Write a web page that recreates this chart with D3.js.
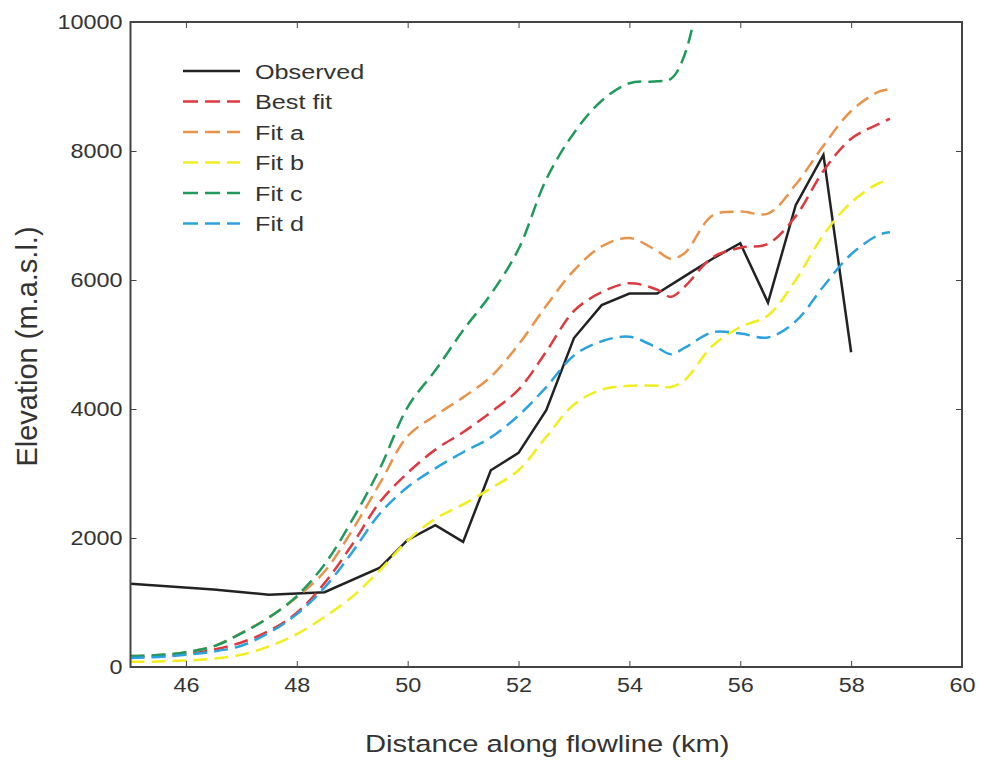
<!DOCTYPE html>
<html>
<head>
<meta charset="utf-8">
<script src="https://cdn.jsdelivr.net/npm/d3@7"></script>
<style>
  body { margin: 0; background: #fff; }
  text { font-family: "Liberation Sans", Arial, sans-serif; fill: #333; }
</style>
</head>
<body>
<script>
// observed flowline elevation
var obsDistance = [45, 46.5, 47.5, 48.5, 49.5, 50, 50.5, 51, 51.5, 52, 52.5, 53, 53.5, 54, 54.5, 55, 55.5, 56, 56.5, 57, 57.5, 58];
var obsElevation = [1290, 1200, 1120, 1160, 1540, 1970, 2200, 1940, 3050, 3320, 3980, 5100, 5610, 5790, 5790, 6060, 6330, 6570, 5650, 7160, 7940, 4880];

// modelled profiles, shared distance grid
var fitDistance = [45, 45.5, 46, 46.5, 47, 47.5, 48, 48.5, 49, 49.5, 50, 50.5, 51, 51.5, 52, 52.5, 53, 53.5, 54, 54.5, 54.75, 55, 55.5, 56, 56.5, 57, 57.5, 58, 58.5, 58.7];
var bestFit = [150, 165, 200, 270, 380, 560, 840, 1300, 1900, 2560, 3010, 3370, 3640, 3950, 4300, 4890, 5520, 5810, 5950, 5850, 5740, 5900, 6350, 6500, 6560, 6990, 7690, 8190, 8420, 8500];
var fitA = [170, 185, 230, 320, 530, 770, 1080, 1480, 2120, 2850, 3580, 3900, 4180, 4500, 5000, 5600, 6150, 6520, 6650, 6450, 6330, 6420, 7000, 7060, 7030, 7480, 8080, 8620, 8920, 8960];
var fitB = [80, 85, 100, 130, 190, 320, 510, 775, 1090, 1500, 1960, 2300, 2520, 2770, 3050, 3570, 4070, 4300, 4360, 4360, 4340, 4450, 4980, 5270, 5450, 6000, 6700, 7200, 7500, 7540];
var fitC = [170, 185, 230, 320, 520, 770, 1100, 1590, 2280, 3080, 4030, 4600, 5220, 5780, 6480, 7560, 8280, 8780, 9050, 9080, 9120, 9500, 11500, null, null, null, null, null, null, null];
var fitD = [140, 155, 190, 240, 330, 530, 820, 1230, 1780, 2380, 2790, 3080, 3330, 3560, 3900, 4340, 4830, 5050, 5120, 4950, 4850, 4950, 5190, 5170, 5110, 5360, 5900, 6400, 6700, 6740];

var xTicks = [46, 48, 50, 52, 54, 56, 58, 60];
var yTicks = [0, 2000, 4000, 6000, 8000, 10000];

var series = [
    {name: "Observed", xs: obsDistance, ys: obsElevation, color: "#222", dash: null},
    {name: "Best fit", xs: fitDistance, ys: bestFit, color: "#dc3a3f", dash: "14,7"},
    {name: "Fit a", xs: fitDistance, ys: fitA, color: "#e9924a", dash: "14,7"},
    {name: "Fit b", xs: fitDistance, ys: fitB, color: "#f2ee1e", dash: "14,7"},
    {name: "Fit c", xs: fitDistance, ys: fitC, color: "#1f9a5a", dash: "14,7"},
    {name: "Fit d", xs: fitDistance, ys: fitD, color: "#2aa2e0", dash: "14,7"}
];

var width = 983, height = 762;
var margin = {left: 130.5, right: 983 - 962, top: 22, bottom: 762 - 667};
var stretch = 1.2; // the original text is wider than it is tall

var svg = d3.select("body").append("svg")
    .attr("width", width)
    .attr("height", height);

var x = d3.scaleLinear().domain([45, 60]).range([margin.left, width - margin.right]);
var y = d3.scaleLinear().domain([0, 10000]).range([height - margin.bottom, margin.top]);

svg.append("clipPath").attr("id", "plotclip")
    .append("rect")
    .attr("x", x(45)).attr("y", y(10000))
    .attr("width", x(60) - x(45)).attr("height", y(0) - y(10000));

var plot = svg.append("g").attr("clip-path", "url(#plotclip)");

series.forEach(function (s) {
    var pts = s.xs.map(function (d, i) { return [d, s.ys[i]]; });
    var line = d3.line()
        .defined(function (d) { return d[1] != null; })
        .x(function (d) { return x(d[0]); })
        .y(function (d) { return y(d[1]); })
        .curve(s.dash ? d3.curveCatmullRom.alpha(0.5) : d3.curveLinear);
    plot.append("path")
        .datum(pts)
        .attr("fill", "none")
        .attr("stroke", s.color)
        .attr("stroke-width", 2.5)
        .attr("stroke-dasharray", s.dash)
        .attr("d", line);
});

// widen tick text around its anchor point
function stretchText(g) {
    g.selectAll("text").each(function () {
        var t = d3.select(this);
        var tx = +t.attr("x") || 0;
        t.attr("x", tx / stretch).attr("transform", "scale(" + stretch + ",1)");
    });
}

// axes, matplotlib style: inward ticks on all four sides
var frame = "#444";
svg.append("g")
    .attr("transform", "translate(0," + y(0) + ")")
    .call(d3.axisBottom(x).tickValues(xTicks).tickSize(-6).tickPadding(11).tickFormat(d3.format("d")))
    .call(function (g) {
        g.select(".domain").remove();
        g.selectAll("line").attr("stroke", frame);
        g.selectAll("text").style("font-size", "19.5px").attr("fill", "#333");
        stretchText(g);
    });
svg.append("g")
    .attr("transform", "translate(0," + y(10000) + ")")
    .call(d3.axisTop(x).tickValues(xTicks).tickSize(-6).tickFormat(""))
    .call(function (g) {
        g.select(".domain").remove();
        g.selectAll("line").attr("stroke", frame);
    });
svg.append("g")
    .attr("transform", "translate(" + x(45) + ",0)")
    .call(d3.axisLeft(y).tickValues(yTicks).tickSize(-6).tickPadding(8).tickFormat(d3.format("d")))
    .call(function (g) {
        g.select(".domain").remove();
        g.selectAll("line").attr("stroke", frame);
        g.selectAll("text").style("font-size", "19.5px").attr("fill", "#333");
        stretchText(g);
    });
svg.append("g")
    .attr("transform", "translate(" + x(60) + ",0)")
    .call(d3.axisRight(y).tickValues(yTicks).tickSize(-6).tickFormat(""))
    .call(function (g) {
        g.select(".domain").remove();
        g.selectAll("line").attr("stroke", frame);
    });

svg.append("rect")
    .attr("x", x(45)).attr("y", y(10000))
    .attr("width", x(60) - x(45)).attr("height", y(0) - y(10000))
    .attr("fill", "none")
    .attr("stroke", frame)
    .attr("stroke-width", 2);

// axis titles
svg.append("text")
    .attr("transform", "translate(" + ((x(45) + x(60)) / 2 + 1) + ",752) scale(" + stretch + ",1)")
    .attr("text-anchor", "middle")
    .style("font-size", "24.3px")
    .text("Distance along flowline (km)");

svg.append("text")
    .attr("transform", "translate(37," + (y(5000) + 2) + ") rotate(-90)")
    .attr("text-anchor", "middle")
    .style("font-size", "29px")
    .text("Elevation (m.a.s.l.)");

// legend
var legend = svg.append("g").attr("transform", "translate(183,71)");
series.forEach(function (s, i) {
    var row = legend.append("g").attr("transform", "translate(0," + i * 30.5 + ")");
    row.append("line")
        .attr("x1", 0).attr("x2", 57)
        .attr("stroke", s.color)
        .attr("stroke-width", 2.5)
        .attr("stroke-dasharray", s.dash ? "15,7" : null);
    row.append("text")
        .attr("transform", "translate(72,0) scale(" + stretch + ",1)")
        .attr("dy", "0.36em")
        .style("font-size", "21px")
        .text(s.name);
});
</script>
</body>
</html>
